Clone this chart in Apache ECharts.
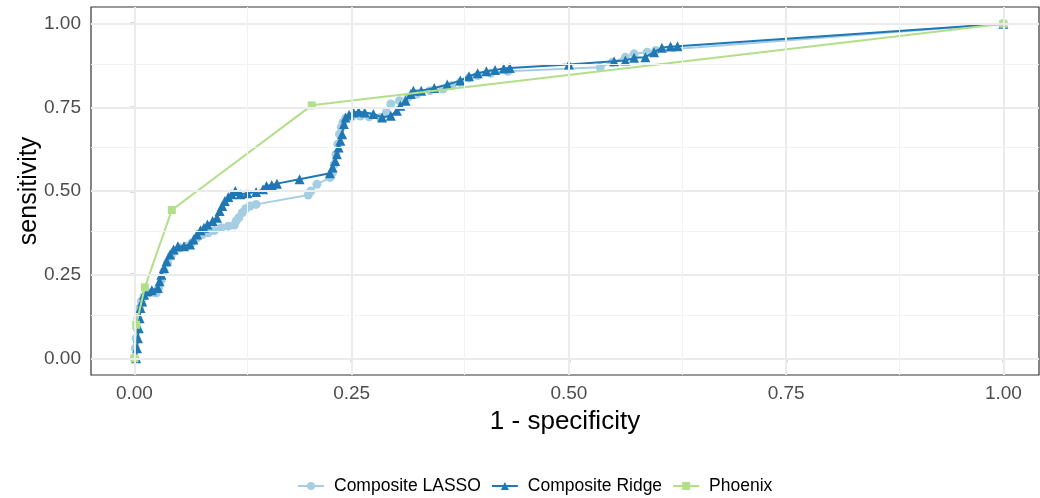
<!DOCTYPE html>
<html>
<head>
<meta charset="utf-8">
<script src="https://cdn.jsdelivr.net/npm/echarts@6/dist/echarts.min.js"></script>
<style>
  html, body { margin: 0; padding: 0; background: #fff; }
  #chart { width: 1040px; height: 498px; }
</style>
</head>
<body>
<div id="chart"></div>
<script>
// [1 - specificity, sensitivity]
const lassoData = [
  [0, 0], [0.001, 0.03], [0.002, 0.06], [0.003, 0.09], [0.004, 0.12], [0.006, 0.15],
  [0.008, 0.17], [0.011, 0.185], [0.016, 0.195], [0.022, 0.198], [0.025, 0.195],
  [0.028, 0.21], [0.031, 0.235], [0.034, 0.26], [0.038, 0.285], [0.042, 0.305],
  [0.046, 0.32], [0.052, 0.33], [0.06, 0.335], [0.066, 0.345], [0.072, 0.36],
  [0.078, 0.37], [0.085, 0.375], [0.092, 0.382], [0.1, 0.39], [0.108, 0.395],
  [0.115, 0.398], [0.117, 0.41], [0.12, 0.42], [0.124, 0.435], [0.128, 0.447],
  [0.133, 0.455], [0.14, 0.46], [0.2, 0.488], [0.203, 0.5], [0.21, 0.52],
  [0.225, 0.54], [0.228, 0.555], [0.23, 0.58], [0.232, 0.61], [0.234, 0.64],
  [0.236, 0.67], [0.238, 0.69], [0.24, 0.705], [0.243, 0.718], [0.25, 0.722],
  [0.26, 0.724], [0.27, 0.722], [0.283, 0.72], [0.29, 0.735], [0.295, 0.76],
  [0.305, 0.77], [0.315, 0.78], [0.325, 0.79], [0.34, 0.8], [0.355, 0.805],
  [0.365, 0.815], [0.375, 0.825], [0.385, 0.838], [0.395, 0.845], [0.41, 0.852],
  [0.43, 0.858], [0.536, 0.87], [0.55, 0.885], [0.565, 0.9], [0.575, 0.91],
  [0.59, 0.915], [0.6, 0.92], [1, 1]
];
const ridgeData = [
  [0.002, 0], [0.003, 0.03], [0.004, 0.06], [0.005, 0.09], [0.006, 0.12], [0.007, 0.15],
  [0.009, 0.17], [0.011, 0.19], [0.015, 0.2], [0.02, 0.203], [0.027, 0.21],
  [0.029, 0.23], [0.031, 0.25], [0.034, 0.27], [0.037, 0.29], [0.041, 0.31],
  [0.045, 0.325], [0.05, 0.335], [0.057, 0.335], [0.064, 0.34], [0.068, 0.355],
  [0.072, 0.37], [0.076, 0.383], [0.08, 0.39], [0.084, 0.4], [0.09, 0.41],
  [0.095, 0.42], [0.098, 0.44], [0.101, 0.455], [0.104, 0.47], [0.108, 0.482],
  [0.112, 0.49], [0.116, 0.5], [0.122, 0.49], [0.13, 0.493], [0.14, 0.497],
  [0.148, 0.505], [0.152, 0.515], [0.158, 0.518], [0.164, 0.522], [0.19, 0.535],
  [0.225, 0.553], [0.228, 0.57], [0.231, 0.59], [0.233, 0.61], [0.235, 0.63],
  [0.237, 0.65], [0.239, 0.67], [0.241, 0.7], [0.243, 0.72], [0.247, 0.728],
  [0.252, 0.735], [0.258, 0.737], [0.265, 0.735], [0.275, 0.73], [0.285, 0.72],
  [0.295, 0.725], [0.302, 0.74], [0.306, 0.755], [0.312, 0.77], [0.318, 0.79],
  [0.321, 0.8], [0.33, 0.8], [0.345, 0.808], [0.36, 0.818], [0.375, 0.83],
  [0.385, 0.843], [0.395, 0.852], [0.405, 0.858], [0.415, 0.862], [0.425, 0.866],
  [0.432, 0.868], [0.5, 0.878], [0.552, 0.888], [0.565, 0.89], [0.575, 0.898],
  [0.588, 0.9], [0.598, 0.915], [0.607, 0.928], [0.617, 0.932], [0.625, 0.933],
  [1, 1]
];
const phoenixData = [
  [0, 0], [0.002, 0.1], [0.012, 0.212], [0.043, 0.443], [0.204, 0.756], [1, 1]
];

const seriesNames = ['Composite LASSO', 'Composite Ridge', 'Phoenix'];
const majorTicks = [0, 0.25, 0.5, 0.75, 1];
const minorTicks = [0.125, 0.375, 0.625, 0.875];

const chart = echarts.init(document.getElementById('chart'));

const majorStyle = { color: '#ebebeb', width: 2, type: 'solid' };
const minorStyle = { color: '#f2f2f2', width: 1, type: 'solid' };

const gridLines = [];
majorTicks.forEach(v => {
  gridLines.push({ xAxis: v, lineStyle: majorStyle });
  gridLines.push({ yAxis: v, lineStyle: majorStyle });
});
minorTicks.forEach(v => {
  gridLines.push({ xAxis: v, lineStyle: minorStyle });
  gridLines.push({ yAxis: v, lineStyle: minorStyle });
});

const tickFmt = v => Number(v).toFixed(2);

const axisCommon = {
  type: 'value',
  min: -0.05,
  max: 1.05,
  axisLine: { show: false },
  axisTick: {
    show: true, inside: false, length: 4,
    customValues: majorTicks,
    lineStyle: { color: '#333', width: 1.4 }
  },
  axisLabel: {
    customValues: majorTicks,
    formatter: tickFmt,
    color: '#4d4d4d',
    fontSize: 19,
    fontFamily: 'Liberation Sans'
  },
  splitLine: { show: false },
  nameLocation: 'middle',
  nameMoveOverlap: false,
  nameTextStyle: { color: '#000', fontSize: 25, fontFamily: 'Liberation Sans' }
};

chart.setOption({
  animation: false,
  backgroundColor: '#fff',
  grid: {
    left: 91, right: 1, top: 7, bottom: 123,
    show: true, borderColor: '#333', borderWidth: 1.2, backgroundColor: 'transparent'
  },
  xAxis: Object.assign({}, axisCommon, {
    max: 1.041,
    name: '1 - specificity',
    nameGap: 34,
    nameTextStyle: Object.assign({}, axisCommon.nameTextStyle, { fontSize: 26 }),
    axisLabel: Object.assign({}, axisCommon.axisLabel, { margin: 9 })
  }),
  yAxis: Object.assign({}, axisCommon, {
    name: 'sensitivity',
    nameGap: 49,
    axisLabel: Object.assign({}, axisCommon.axisLabel, { margin: 10 })
  }),
  legend: {
    data: seriesNames,
    left: 292,
    top: 472,
    itemWidth: 26,
    itemHeight: 10,
    itemGap: 10,
    textStyle: { color: '#000', fontSize: 17.5, fontFamily: 'Liberation Sans', padding: [0, 0, 0, 5] }
  },
  series: [
    {
      name: 'grid',
      type: 'line',
      data: [],
      z: 0,
      silent: true,
      markLine: {
        silent: true,
        symbol: ['none', 'none'],
        label: { show: false },
        animation: false,
        data: gridLines
      }
    },
    {
      name: seriesNames[0],
      type: 'line',
      data: lassoData,
      z: 2,
      symbol: 'circle',
      symbolSize: 9,
      showAllSymbol: true,
      color: '#a6cee3',
      lineStyle: { width: 2, color: '#a6cee3' },
      itemStyle: { color: '#a6cee3' }
    },
    {
      name: seriesNames[1],
      type: 'line',
      data: ridgeData,
      z: 3,
      symbol: 'triangle',
      symbolSize: 10,
      showAllSymbol: true,
      color: '#1f78b4',
      lineStyle: { width: 2, color: '#1f78b4' },
      itemStyle: { color: '#1f78b4' }
    },
    {
      name: seriesNames[2],
      type: 'line',
      data: phoenixData,
      z: 4,
      symbol: 'rect',
      symbolSize: 8,
      showAllSymbol: true,
      color: '#b2df8a',
      lineStyle: { width: 2, color: '#b2df8a' },
      itemStyle: { color: '#b2df8a' }
    }
  ]
});
</script>
</body>
</html>
